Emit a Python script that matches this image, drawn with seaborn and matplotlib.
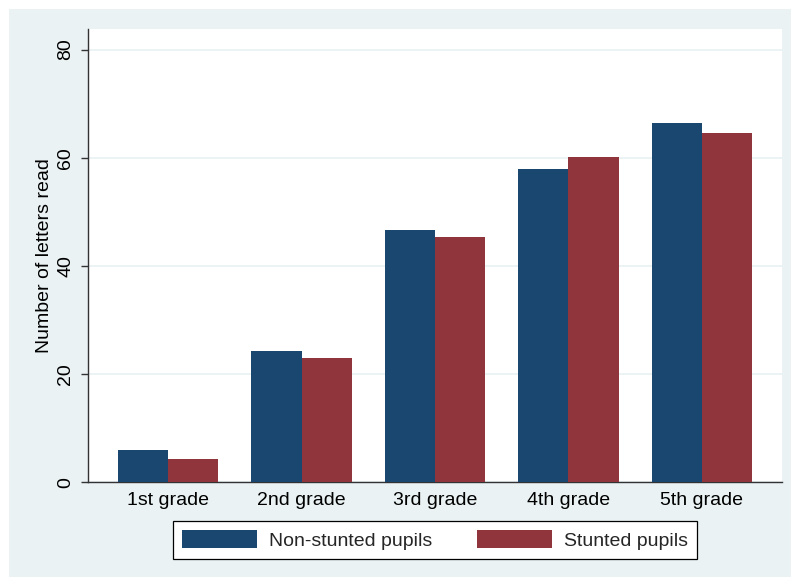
import matplotlib
matplotlib.use("Agg")
import matplotlib.pyplot as plt
import seaborn as sns
import pandas as pd
from matplotlib.patches import Rectangle

grades = ["1st grade", "2nd grade", "3rd grade", "4th grade", "5th grade"]
non_stunted = [6.0, 24.2, 46.7, 58.0, 66.4]
stunted = [4.3, 23.0, 45.3, 60.1, 64.5]
series_names = ["Non-stunted pupils", "Stunted pupils"]
y_ticks = [0, 20, 40, 60, 80]

df = pd.DataFrame({
    "grade": grades * 2,
    "value": non_stunted + stunted,
    "group": [series_names[0]] * len(grades) + [series_names[1]] * len(grades),
})

sns.set_theme(style="white")
plt.rcParams["font.family"] = ["Liberation Sans", "DejaVu Sans"]

BG = "#EAF2F3"
BLUE = "#1A476F"
RED = "#90353B"
AX = "#333333"

fig = plt.figure(figsize=(7.91, 5.77), dpi=100)
fig.patch.set_facecolor("white")
fig.patches.append(Rectangle((9 / 791, 0), 1 - 9 / 791, 1 - 9 / 577,
                             transform=fig.transFigure, facecolor=BG,
                             edgecolor="none", zorder=-10))

ax = fig.add_axes([88 / 791, 1 - 482.3 / 577, (782 - 88) / 791, (482.3 - 29) / 577])
ax.set_facecolor("white")

sns.barplot(data=df, x="grade", y="value", hue="group", order=grades,
            hue_order=series_names, palette=[BLUE, RED], width=0.75,
            saturation=1, ax=ax, legend=False, zorder=3, linewidth=0)

ax.set_xlim(-0.6, 4.6)
ax.set_ylim(0, 83.8)
ax.set_yticks(y_ticks)
ax.set_yticklabels([str(v) for v in y_ticks])
ax.yaxis.grid(True, color=BG, linewidth=1.3, zorder=0)
ax.xaxis.grid(False)
ax.set_axisbelow(True)

for s in ["top", "right"]:
    ax.spines[s].set_visible(False)
for s in ["left", "bottom"]:
    ax.spines[s].set_color(AX)
    ax.spines[s].set_linewidth(1.0)

ax.tick_params(axis="x", length=0, pad=7, labelsize=14, labelcolor="black")
ax.tick_params(axis="y", length=5, width=1.0, color=AX, pad=5, labelsize=14,
               labelcolor="black", left=True)
for lab in ax.get_yticklabels():
    lab.set_rotation(90)
    lab.set_va("center")
    lab.set_ha("right")

ax.set_xlabel("")
ax.set_ylabel("Number of letters read", fontsize=14, labelpad=3, color="black")

handles = [Rectangle((0, 0), 1, 1, facecolor=BLUE, edgecolor="none"),
           Rectangle((0, 0), 1, 1, facecolor=RED, edgecolor="none")]
leg = fig.legend(handles, series_names, loc="center",
                 bbox_to_anchor=(435 / 791, 1 - 540 / 577), ncol=2,
                 fontsize=14, frameon=True, fancybox=False,
                 handlelength=3.85, handleheight=1.05, handletextpad=0.6,
                 columnspacing=2.35, borderpad=0.45, borderaxespad=0)
leg.get_frame().set_edgecolor("black")
leg.get_frame().set_linewidth(0.9)
leg.get_frame().set_facecolor("white")
leg.get_frame().set_alpha(1)

fig.savefig("out.png", dpi=100, facecolor=fig.get_facecolor())
